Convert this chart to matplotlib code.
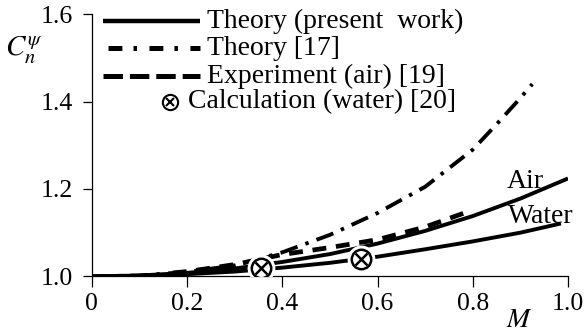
import matplotlib
matplotlib.use("Agg")
import matplotlib.pyplot as plt

plt.rcParams['font.family'] = ['Liberation Serif', 'DejaVu Serif']
plt.rcParams['mathtext.fontset'] = 'stix'
plt.rcParams['lines.scale_dashes'] = False

# Mach number grid for the curves
mach = [0.0, 0.1, 0.2, 0.3, 0.4, 0.5, 0.6, 0.7, 0.8, 0.9, 1.0]
theory_air = [1.000, 1.002, 1.008, 1.018, 1.033, 1.051, 1.075, 1.104, 1.138, 1.178, 1.224]
mach_water = [0.0, 0.1, 0.2, 0.3, 0.4, 0.5, 0.6, 0.7, 0.8, 0.9, 0.985]
theory_water = [1.000, 1.001, 1.005, 1.011, 1.020, 1.031, 1.045, 1.062, 1.080, 1.100, 1.121]

mach_ref17 = [0.0, 0.1, 0.2, 0.3, 0.4, 0.5, 0.6, 0.7, 0.8, 0.85, 0.9, 0.925]
theory_ref17 = [1.000, 1.002, 1.010, 1.025, 1.055, 1.095, 1.145, 1.205, 1.290, 1.348, 1.408, 1.440]

mach_exp = [0.17, 0.2, 0.3, 0.4, 0.5, 0.6, 0.7, 0.79]
exp_air = [1.008, 1.011, 1.027, 1.050, 1.066, 1.084, 1.113, 1.148]

mach_calc = [0.355, 0.565]
calc_water = [1.019, 1.040]

fig = plt.figure(figsize=(5.85, 3.35), dpi=100)
ax = fig.add_axes([0.157, 0.175, 0.814, 0.783])

lw = 2.8
ax.plot(mach, theory_air, color='black', lw=lw, solid_capstyle='butt', zorder=3)
ax.plot(mach_water, theory_water, color='black', lw=lw, solid_capstyle='butt', zorder=3)
ax.plot(mach_ref17, theory_ref17, color='black', lw=lw,
        dashes=(13, 6, 2.5, 6), zorder=2)
ax.plot(mach_exp, exp_air, color='black', lw=lw + 0.6,
        dashes=(10, 7), zorder=2)

# calculation points: white halo, circle, cross
ax.plot(mach_calc, calc_water, 'o', ms=19, mfc='white', mec='white', zorder=4)
ax.plot(mach_calc, calc_water, 'o', ms=14, mfc='white', mec='black', mew=1.8, zorder=5)
ax.plot(mach_calc, calc_water, 'x', ms=8, mec='black', mew=1.8, zorder=6)

ax.text(0.872, 1.202, 'Air', fontsize=20, va='baseline', ha='left')
ax.text(0.874, 1.122, 'Water', fontsize=20, va='baseline', ha='left')

ax.set_xlim(0, 1.0)
ax.set_ylim(1.0, 1.6)
ax.set_xticks([0, 0.2, 0.4, 0.6, 0.8, 1.0])
ax.set_xticklabels(['0', '0.2', '0.4', '0.6', '0.8', '1.0'])
ax.set_yticks([1.0, 1.2, 1.4, 1.6])
ax.set_yticklabels(['1.0', '1.2', '1.4', '1.6'])
ax.tick_params(axis='x', direction='out', length=8, width=0.9, pad=4, labelsize=18.5)
ax.tick_params(axis='y', direction='out', length=6.5, width=0.9, pad=7, labelsize=18.5)
ax.spines['top'].set_visible(False)
ax.spines['right'].set_visible(False)
for s in ('left', 'bottom'):
    ax.spines[s].set_linewidth(0.9)

ax.text(-0.143, 1.518, r'$C_n^{\psi}$', fontsize=21, ha='center', va='center')
ax.text(0.897, -0.17, r'$M$', fontsize=20, ha='center', va='center',
        transform=ax.transAxes)

# legend drawn by hand
trans = ax.transAxes
def legend_y(py):
    return (276.5 - py) / 262.5

ax.plot([0.023, 0.227], [legend_y(21)] * 2, color='black', lw=3.2,
        transform=trans, clip_on=False, solid_capstyle='butt')
ax.plot([0.034, 0.227], [legend_y(48)] * 2, color='black', lw=3.6,
        dashes=(10, 8, 2.5, 9), transform=trans, clip_on=False)
ax.plot([0.023, 0.227], [legend_y(76)] * 2, color='black', lw=3.6,
        dashes=(14, 5), transform=trans, clip_on=False)
ax.plot([0.164], [legend_y(102)], 'o', ms=11, mfc='white', mec='black', mew=1.5,
        transform=trans, clip_on=False)
ax.plot([0.164], [legend_y(102)], 'x', ms=6, mec='black', mew=1.5,
        transform=trans, clip_on=False)

labels = ['Theory (present  work)', 'Theory [17]', 'Experiment (air) [19]',
          'Calculation (water) [20]']
rows = [21, 48, 76, 102]
xs = [0.242, 0.242, 0.242, 0.202]
for lab, py, x in zip(labels, rows, xs):
    ax.text(x, legend_y(py), lab, fontsize=20, va='center', ha='left',
            transform=trans)

fig.savefig('out.png', dpi=100)
